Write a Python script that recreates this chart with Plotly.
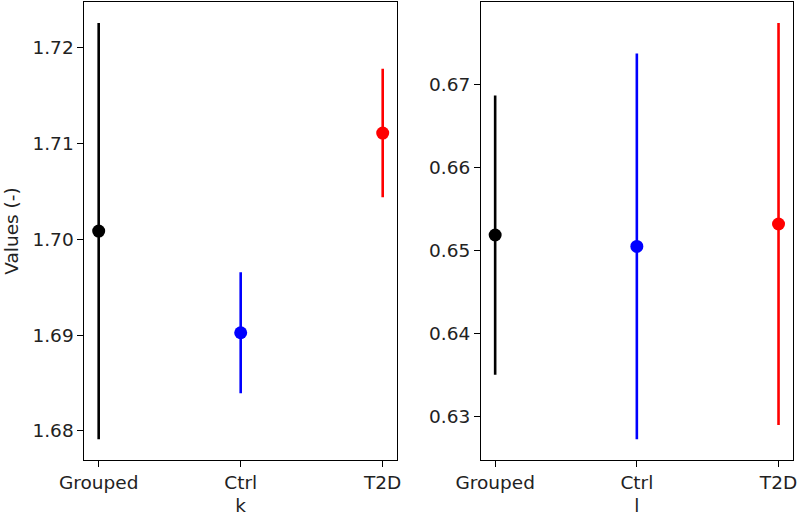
import plotly.graph_objects as go
from plotly.subplots import make_subplots

categories = ["Grouped", "Ctrl", "T2D"]
colors = ["black", "blue", "red"]

k_means = [1.70084, 1.69024, 1.71105]
k_errors = [0.0217, 0.0063, 0.0067]

l_means = [0.65189, 0.65052, 0.65322]
l_errors = [0.0168, 0.0232, 0.0242]

k_ticks = [1.68, 1.69, 1.70, 1.71, 1.72]
l_ticks = [0.63, 0.64, 0.65, 0.66, 0.67]

FONT = "DejaVu Sans"
FS = 18.5
TC = "#222"

fig = make_subplots(rows=1, cols=2)

def add_panel(means, errors, col):
    for i, (cat, m, e, c) in enumerate(zip(categories, means, errors, colors)):
        fig.add_trace(go.Scatter(
            x=[i], y=[m], mode="markers",
            marker=dict(color=c, size=13, line=dict(width=0)),
            error_y=dict(type="data", array=[e], visible=True, color=c,
                         thickness=2.6, width=0),
            showlegend=False, name=cat), row=1, col=col)

add_panel(k_means, k_errors, 1)
add_panel(l_means, l_errors, 2)

def yrange(means, errors):
    lo = min(m - e for m, e in zip(means, errors))
    hi = max(m + e for m, e in zip(means, errors))
    pad = (hi - lo) * 0.05
    return [lo - pad, hi + pad]

axis_common = dict(showline=True, linecolor="black", linewidth=1.2, mirror=True,
                   ticks="outside", ticklen=6, tickwidth=1.2, tickcolor="black",
                   showgrid=False, zeroline=False, automargin=False,
                   ticklabeloverflow="allow",
                   tickfont=dict(family=FONT, size=FS, color=TC))

fig.update_xaxes(**axis_common, tickvals=[0, 1, 2], ticktext=categories,
                 range=[-0.1, 2.1])
fig.update_xaxes(domain=[0.106, 0.498], row=1, col=1,
                 title=dict(text="k", font=dict(family=FONT, size=FS, color=TC), standoff=10))
fig.update_xaxes(domain=[0.6035, 0.9946], row=1, col=2,
                 title=dict(text="l", font=dict(family=FONT, size=FS, color=TC), standoff=10))

fig.update_yaxes(**axis_common, domain=[0.1085, 0.996])
fig.update_yaxes(row=1, col=1, range=yrange(k_means, k_errors), tickvals=k_ticks,
                 tickformat=".2f",
                 title=dict(text="Values (-)", font=dict(family=FONT, size=FS, color=TC), standoff=8))
fig.update_yaxes(row=1, col=2, range=yrange(l_means, l_errors), tickvals=l_ticks,
                 tickformat=".2f")

fig.update_layout(width=797, height=516, margin=dict(l=0, r=0, t=0, b=0),
                  paper_bgcolor="white", plot_bgcolor="white",
                  font=dict(family=FONT, size=FS, color=TC))

fig.write_html("out.html")
